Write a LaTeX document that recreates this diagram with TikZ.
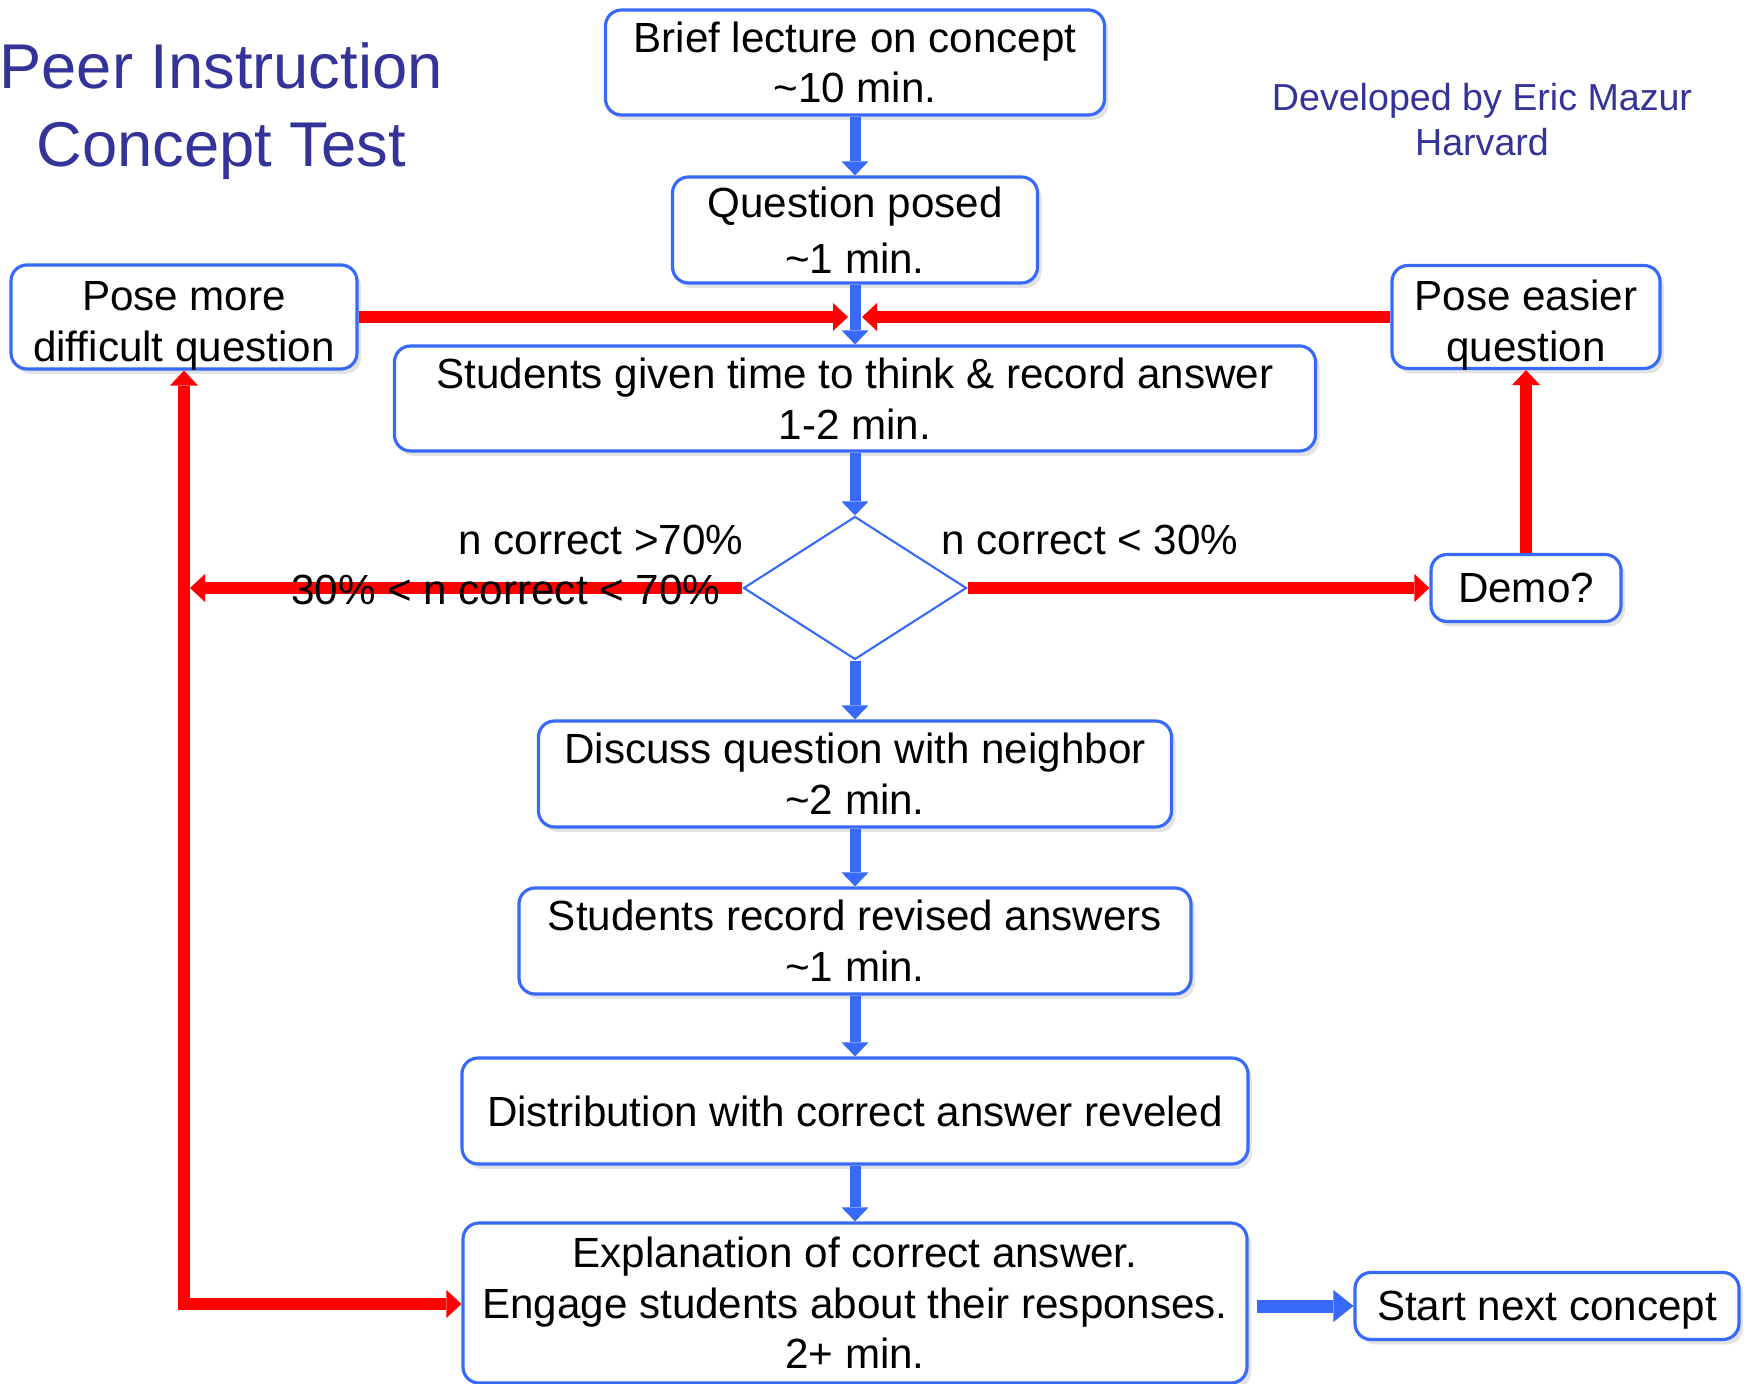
\documentclass[tikz,border=0pt]{standalone}
\usepackage{fontspec}
\setmainfont{Liberation Sans}
\usetikzlibrary{shapes.geometric,arrows.meta,shadows}
\definecolor{flowblue}{RGB}{55,105,250}
\definecolor{titleblue}{RGB}{51,51,153}
\colorlet{flowred}{red}

\begin{document}
\begin{tikzpicture}[
  bluetip/.tip={Triangle[length=0.14cm, width=0.27cm, line width=0pt]},
  redtip/.tip={Triangle[length=0.15cm, width=0.28cm, line width=0pt]},
  stepbox/.style={draw=flowblue, line width=0.9pt, rounded corners=0.16cm, fill=white,
    align=center, inner sep=0pt, font=\fontsize{12}{14.4}\selectfont,
    drop shadow={opacity=0.22, shadow xshift=0.04cm, shadow yshift=-0.05cm}},
  bluearrow/.style={draw=flowblue, line width=0.11cm, -bluetip},
  redarrow/.style={draw=flowred, line width=0.12cm, -redtip},
  lbl/.style={font=\fontsize{12}{14.4}\selectfont, inner sep=0pt}]
\useasboundingbox (0,0) rectangle (17.5,13.83);

\node[font=\fontsize{18}{22.2}\selectfont, text=titleblue, align=center, inner sep=0pt] (title) at (2.21,12.715) {Peer Instruction\\Concept Test};
\node[font=\fontsize{10.7}{12.8}\selectfont, text=titleblue, align=center, inner sep=0pt] (credit) at (14.82,12.63) {Developed by Eric Mazur\\Harvard};

\node[stepbox, minimum width=4.99cm, minimum height=1.05cm] (lecture) at (8.55,13.205) {Brief lecture on concept\\\textasciitilde10 min.};
\node[stepbox, minimum width=3.65cm, minimum height=1.06cm, font=\fontsize{12}{15.9}\selectfont] (question) at (8.55,11.53) {Question posed\\\textasciitilde1 min.};
\node[stepbox, minimum width=9.21cm, minimum height=1.05cm] (think) at (8.55,9.845) {Students given time to think \& record answer\\1-2 min.};
\node[stepbox, minimum width=3.46cm, minimum height=1.04cm, text height=0.89cm, text depth=0pt] (harder) at (1.84,10.66) {Pose more\\difficult question};
\node[stepbox, minimum width=2.68cm, minimum height=1.03cm, text height=0.89cm, text depth=0pt] (easier) at (15.26,10.66) {Pose easier\\question};
\node[draw=flowblue, line width=0.6pt, diamond, minimum width=2.23cm, minimum height=1.43cm, inner sep=0pt] (check) at (8.55,7.95) {};
\node[stepbox, minimum width=1.90cm, minimum height=0.67cm] (demo) at (15.26,7.95) {Demo?};
\node[stepbox, minimum width=6.33cm, minimum height=1.06cm] (discuss) at (8.55,6.09) {Discuss question with neighbor\\\textasciitilde2 min.};
\node[stepbox, minimum width=6.72cm, minimum height=1.06cm] (revise) at (8.55,4.42) {Students record revised answers\\\textasciitilde1 min.};
\node[stepbox, minimum width=7.86cm, minimum height=1.06cm] (reveal) at (8.55,2.72) {Distribution with correct answer reveled};
\node[stepbox, minimum width=7.84cm, minimum height=1.60cm] (explain) at (8.55,0.80) {Explanation of correct answer.\\Engage students about their responses.\\2+ min.};
\node[stepbox, minimum width=3.84cm, minimum height=0.67cm, text depth=0pt] (next) at (15.47,0.77) {Start next concept};

\coordinate (joinL) at (8.48,10.66);
\coordinate (joinR) at (8.62,10.66);
\coordinate (corner) at (1.84,0.79);

\draw[redarrow] (harder.east) -- (joinL);
\draw[redarrow] (easier.west) -- (joinR);
\draw[redarrow, shorten >=0.06cm] (check.west) -- (check.west -| corner);
\draw[redarrow, redtip-redtip] (harder.south) -- (corner) -- (explain.west |- corner);
\draw[redarrow] (check.east) -- (demo.west);
\draw[redarrow] (demo.north) -- (easier.south);

\draw[bluearrow] (lecture.south) -- (question.north);
\draw[bluearrow] (question.south) -- (think.north);
\draw[bluearrow] (think.south) -- (check.north);
\draw[bluearrow] (check.south) -- (discuss.north);
\draw[bluearrow] (discuss.south) -- (revise.north);
\draw[bluearrow] (revise.south) -- (reveal.north);
\draw[bluearrow] (reveal.south) -- (explain.north);
\draw[bluearrow, line width=0.13cm, -{Triangle[length=0.2cm, width=0.32cm, line width=0pt]}, shorten <=0.08cm] (explain.east |- next) -- (next.west);

\node[lbl, anchor=base east] (high) at (7.44,8.28) {n correct >70\%};
\node[lbl, anchor=base east] (mid) at (7.21,7.78) {30\% < n correct < 70\%};
\node[lbl, anchor=base west] (low) at (9.41,8.28) {n correct < 30\%};
\end{tikzpicture}
\end{document}
